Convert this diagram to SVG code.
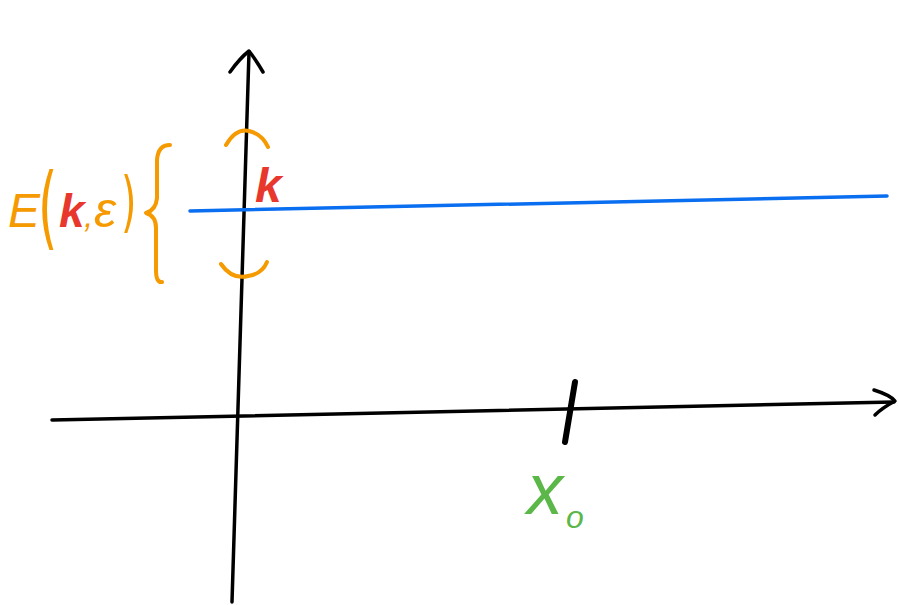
<svg xmlns="http://www.w3.org/2000/svg" width="899" height="605" viewBox="0 0 899 605">
<style>
.ax{fill:none;stroke:#000;stroke-width:3.5;stroke-linecap:round;stroke-linejoin:round}
.or{fill:none;stroke:#f59a00;stroke-width:4;stroke-linecap:round;stroke-linejoin:round}
.t{font-family:"Liberation Sans",Arial,sans-serif;font-style:italic}
.p{font-family:"DejaVu Sans","Liberation Sans",sans-serif}
</style>
<rect width="899" height="605" fill="#fff"/>
<g id="connectors">
<path class="ax" d="M232 602 L249 52"/>
<path class="ax" d="M230 72 Q240 58 249 51 Q256 60 263 72"/>
<path class="ax" d="M52 420 L894 402"/>
<path class="ax" d="M874 390 Q890 395 895 401 Q882 408 875 415"/>
<path d="M190 211 L887 196" fill="none" stroke="#0a6ef0" stroke-width="3.5" stroke-linecap="round"/>
<path d="M575 382 L565 442" fill="none" stroke="#000" stroke-width="6" stroke-linecap="round"/>
</g>
<g id="bracket">
<path class="or" d="M226 145 Q236 128 249 131 Q262 134 268 147"/>
<path class="or" d="M221 264 Q232 280 248 276 Q262 274 267 262"/>
<path class="or" d="M170 145 Q158 145 157 160 L157 198 Q156 210 146 213 Q156 216 156 228 L156 270 Q156 283 162 282"/>
</g>
<g id="label-E">
<text class="t" x="8" y="227" font-size="48" fill="#f59a00">E</text>
<text class="p" transform="translate(38,238) scale(0.55,1)" font-size="90" fill="#f59a00">(</text>
<text class="t" x="59" y="227" font-size="46" fill="#e8382e" font-weight="bold">k</text>
<text class="t" x="84" y="227" font-size="34" fill="#f59a00">,</text>
<text class="t" x="94" y="227" font-size="50" fill="#f59a00">ε</text>
<text class="p" transform="translate(121,224) scale(0.6,1)" font-size="66" fill="#f59a00">)</text>
</g>
<g id="label-k">
<text class="t" x="255" y="202" font-size="48" fill="#e8382e" font-weight="bold">k</text>
</g>
<g id="label-x0">
<text class="t" x="527" y="514" font-size="72" fill="#5ab748">x</text>
<text class="t" x="566" y="528" font-size="32" fill="#5ab748">o</text>
</g>
</svg>
